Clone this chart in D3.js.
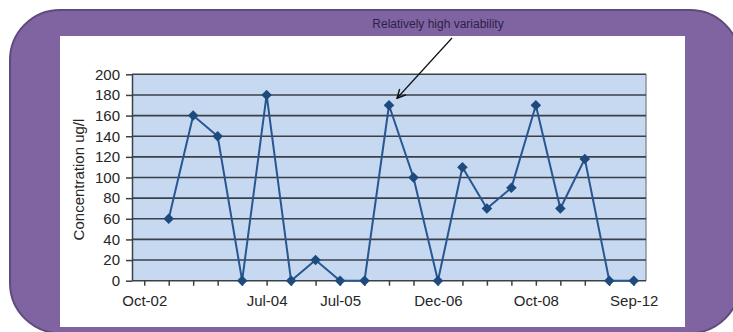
<!DOCTYPE html>
<html>
<head>
<meta charset="utf-8">
<script src="https://cdn.jsdelivr.net/npm/d3@7"></script>
<style>
  body { margin: 0; background: #ffffff; }
  svg { display: block; font-family: "Liberation Sans", Arial, sans-serif; }
  .tick text { fill: #262626; font-size: 15px; }
</style>
</head>
<body>
<div id="wrapper"></div>
<script>
// Sampling rounds: only a few of them carry a label on the axis
const periods = ["Oct-02", "", "", "", "", "Jul-04", "", "", "Jul-05", "", "",
  "", "Dec-06", "", "", "", "Oct-08", "", "", "", "Sep-12"]
// Concentration in ug/l, first round has no sample
const concentration = [null, 60, 160, 140, 0, 180, 0, 20, 0, 0, 170,
  100, 0, 110, 70, 90, 170, 70, 118, 0, 0]
const yTicks = [0, 20, 40, 60, 80, 100, 120, 140, 160, 180, 200]
const annotation = { text: "Relatively high variability", index: 10 }

const dimensions = {
  width: 733,
  height: 332,
  margin: { top: 74.3, right: 87, bottom: 51.3, left: 132 }
}
dimensions.boundedWidth = dimensions.width - dimensions.margin.left - dimensions.margin.right
dimensions.boundedHeight = dimensions.height - dimensions.margin.top - dimensions.margin.bottom

const svg = d3.select("#wrapper").append("svg")
    .attr("width", dimensions.width)
    .attr("height", dimensions.height)

// Slide frame: purple rounded box with a white panel on it
svg.append("rect")
    .attr("x", 10).attr("y", 10)
    .attr("width", 730).attr("height", 323)
    .attr("rx", 50).attr("ry", 50)
    .attr("fill", "#8064a2")
    .attr("stroke", "#5f4a7d")
    .attr("stroke-width", 2)

svg.append("rect")
    .attr("x", 60).attr("y", 36)
    .attr("width", 625).attr("height", 291)
    .attr("fill", "#ffffff")

// Scales
const xScale = d3.scalePoint()
    .domain(d3.range(periods.length))
    .range([0, dimensions.boundedWidth])
    .padding(0.5)
const yScale = d3.scaleLinear()
    .domain([0, 200])
    .range([dimensions.boundedHeight, 0])

const bounds = svg.append("g")
    .attr("transform", `translate(${dimensions.margin.left},${dimensions.margin.top})`)

// Plot area
bounds.append("rect")
    .attr("width", dimensions.boundedWidth)
    .attr("height", dimensions.boundedHeight)
    .attr("fill", "#c6d9f1")

bounds.append("line")
    .attr("x1", dimensions.boundedWidth).attr("x2", dimensions.boundedWidth)
    .attr("y1", 0).attr("y2", dimensions.boundedHeight)
    .attr("stroke", "#8d939b")
    .attr("stroke-width", 1.5)

// Gridlines
bounds.append("g")
  .selectAll("line")
  .data(yTicks.filter(d => d > 0))
  .join("line")
    .attr("x1", 0)
    .attr("x2", dimensions.boundedWidth)
    .attr("y1", d => yScale(d))
    .attr("y2", d => yScale(d))
    .attr("stroke", "#3a4048")
    .attr("stroke-width", 1.6)

// Axes
const yAxis = bounds.append("g")
    .call(d3.axisLeft(yScale).tickValues(yTicks).tickSize(6).tickSizeOuter(0).tickPadding(6))
yAxis.selectAll("line, path").attr("stroke", "#3a4048").attr("stroke-width", 1.5)

const xAxis = bounds.append("g")
    .attr("transform", `translate(0,${dimensions.boundedHeight})`)
    .call(d3.axisBottom(xScale).tickSize(5).tickSizeOuter(0).tickPadding(10)
      .tickFormat(i => periods[i]))
xAxis.select(".domain")
    .attr("d", `M0,0H${dimensions.boundedWidth}`)
xAxis.selectAll("line, path").attr("stroke", "#3a4048").attr("stroke-width", 1.5)

svg.append("text")
    .attr("transform", `translate(84,${dimensions.margin.top + dimensions.boundedHeight / 2 + 2}) rotate(-90)`)
    .attr("text-anchor", "middle")
    .attr("fill", "#262626")
    .style("font-size", "15px")
    .text("Concentration ug/l")

// Concentration line with diamond markers
const points = concentration
  .map((value, index) => ({ index, value }))
  .filter(d => d.value !== null)

const lineGenerator = d3.line()
    .x(d => xScale(d.index))
    .y(d => yScale(d.value))

bounds.append("path")
    .attr("d", lineGenerator(points))
    .attr("fill", "none")
    .attr("stroke", "#285690")
    .attr("stroke-width", 2)

bounds.append("g")
  .selectAll("path")
  .data(points)
  .join("path")
    .attr("d", d3.symbol(d3.symbolSquare, 56))
    .attr("transform", d => `translate(${xScale(d.index)},${yScale(d.value)}) rotate(45)`)
    .attr("fill", "#1f4a7e")

// Annotation pointing at the high value
svg.append("defs").append("marker")
    .attr("id", "arrow")
    .attr("viewBox", "0 0 10 10")
    .attr("refX", 9).attr("refY", 5)
    .attr("markerWidth", 9).attr("markerHeight", 9)
    .attr("orient", "auto")
  .append("path")
    .attr("d", "M1,1L9,5L1,9")
    .attr("fill", "none")
    .attr("stroke", "#111111")
    .attr("stroke-width", 1.3)

svg.append("text")
    .attr("x", 438).attr("y", 28)
    .attr("text-anchor", "middle")
    .attr("fill", "#2e2146")
    .style("font-size", "12px")
    .text(annotation.text)

const target = concentration[annotation.index]
svg.append("line")
    .attr("x1", 452).attr("y1", 38)
    .attr("x2", dimensions.margin.left + xScale(annotation.index) + 8)
    .attr("y2", dimensions.margin.top + yScale(target) - 7)
    .attr("stroke", "#111111")
    .attr("stroke-width", 1.2)
    .attr("marker-end", "url(#arrow)")
</script>
</body>
</html>
